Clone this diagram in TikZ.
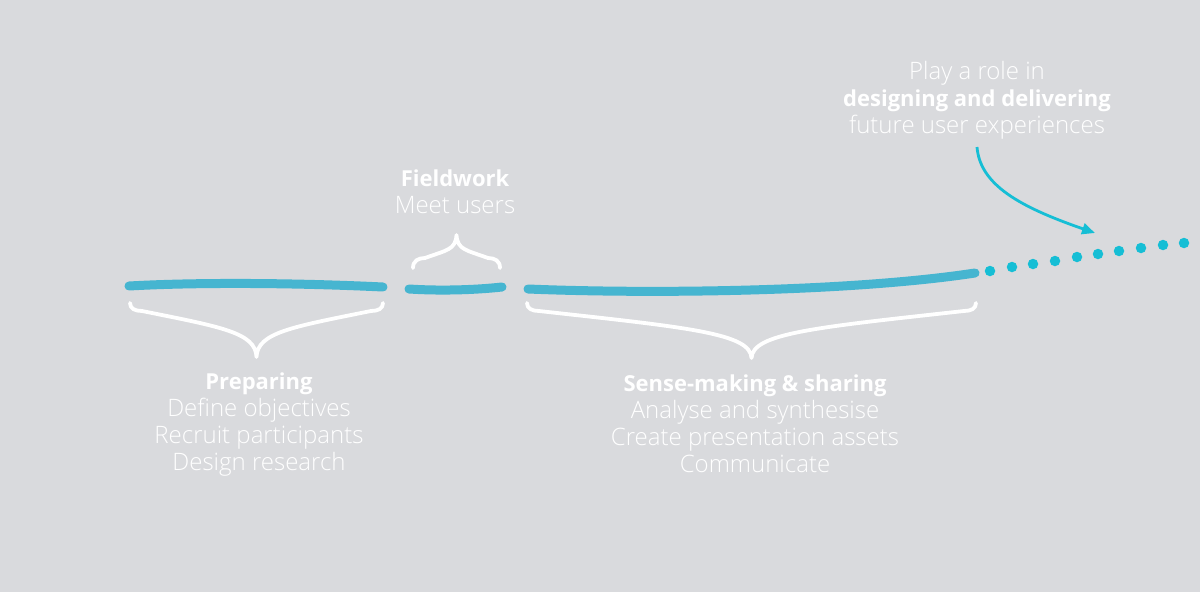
\documentclass[tikz,border=0pt]{standalone}
\usepackage{fontspec}
\setmainfont{Open Sans}
\newfontfamily\lightfont{Open Sans Light}
\usetikzlibrary{arrows.meta}
\definecolor{bg}{RGB}{217,218,221}
\definecolor{rod}{RGB}{70,181,208}
\definecolor{dotc}{RGB}{22,190,213}
\newcommand\hd[1]{{\normalfont\bfseries\fontsize{22}{27}\selectfont #1}}
\tikzset{
  rodline/.style={draw=rod, line width=9pt, line cap=round},
  bracestyle/.style={draw=white, line width=3.8pt, line cap=round, line join=round},
  dotstyle/.style={circle, fill=dotc, inner sep=0pt, minimum size=10.5pt},
  txt/.style={text=white, align=center, inner sep=0pt, font=\lightfont\fontsize{24}{27}\selectfont},
  arrowline/.style={draw=dotc, line width=2.8pt, -{Triangle[length=13pt,width=11pt]}},
}
\newcommand\curlybrace[5]{% x0 x1 yE D(signed) h(signed)
  \pgfmathsetmacro\bxm{(#1+#2)/2}
  \pgfmathsetmacro\bdx{\bxm-#1-12}
  \draw[bracestyle] (#1,#3)
    .. controls (#1,{#3+0.7*#5}) and ({#1+5},{#3+#5}) .. ({#1+12},{#3+#5})
    .. controls ({#1+12+0.7*\bdx},{#3+#5+0.35*(#4-#5)}) and ({\bxm-1},{#3+0.55*#4}) .. (\bxm,{#3+#4})
    .. controls ({\bxm+1},{#3+0.55*#4}) and ({#2-12-0.7*\bdx},{#3+#5+0.35*(#4-#5)}) .. ({#2-12},{#3+#5})
    .. controls ({#2-5},{#3+#5}) and (#2,{#3+0.7*#5}) .. (#2,#3);
}
\begin{document}
\begin{tikzpicture}[x=1pt,y=-1pt]
  \useasboundingbox (0,0) rectangle (1200,592);
  \fill[bg] (0,0) rectangle (1200,592);

  % rods
  \draw[rodline] (129,286) .. controls (200,282) and (300,283) .. (383,287);
  \draw[rodline] (409,289) .. controls (440,291) and (475,290) .. (502,287);
  \draw[rodline] (528,289) .. controls (650,294) and (850,292) .. (975,273);

  % dots
  \foreach \i/\x/\y in {1/990/271,2/1012/267,3/1033/264,4/1055/261,5/1077/257,6/1098/254,7/1119/251,8/1141/248,9/1163/245,10/1184/243}
    \node[dotstyle] (d\i) at (\x,\y) {};

  % braces
  \curlybrace{130}{383}{303}{54}{8}
  \curlybrace{413}{500}{268}{-33}{-10}
  \curlybrace{527}{976}{303}{55}{8}

  % arrow
  \coordinate (astart) at (977,147);
  \coordinate (aend) at (1095,233);
  \draw[arrowline] (astart) .. controls (980,185) and (1020,207) .. (aend);

  % texts
  \node[txt] (ttop) at (977,100) {Play a role in\\\hd{designing and delivering}\\future user experiences};
  \node[txt] (tfield) at (455,192) {\hd{Fieldwork}\\Meet users};
  \node[txt] (tprep) at (259,424.5) {\hd{Preparing}\\Define objectives\\Recruit participants\\Design research};
  \node[txt] (tsense) at (755,423.5) {\hd{Sense-making \& sharing}\\Analyse and synthesise\\Create presentation assets\\Communicate};
\end{tikzpicture}
\end{document}
